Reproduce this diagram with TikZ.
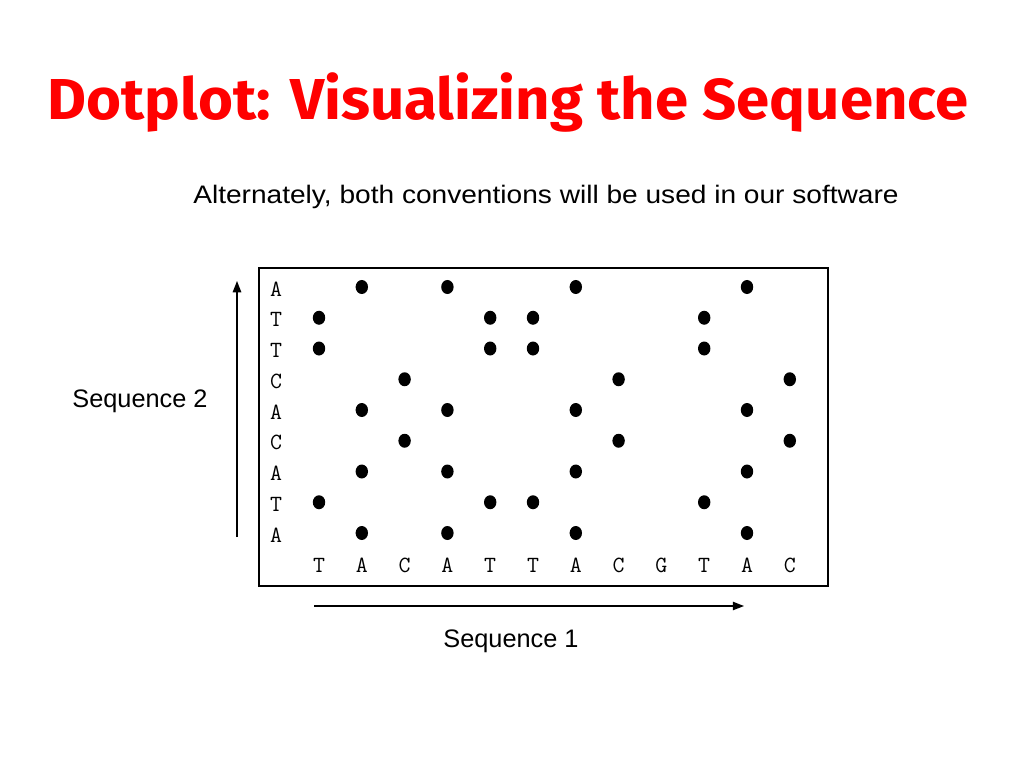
\documentclass[tikz,border=0pt]{standalone}
\usepackage{fontspec}
\setmainfont{Liberation Sans}
\newfontfamily\titlefont{Fira Sans}
\usetikzlibrary{arrows.meta,shapes.geometric}

\begin{document}
\begin{tikzpicture}[x=0.025cm, y=-0.025cm,
    label text/.style={font=\fontsize{18}{21}\selectfont},
    base/.style={font=\ttfamily\fontsize{16.5}{18}\selectfont, inner sep=0pt},
    hit/.style={ellipse, fill=black, inner sep=0pt, minimum width=0.31cm, minimum height=0.35cm},
    axis arrow/.style={line width=1pt, -{Triangle[length=8pt, width=6pt]}}]
  \useasboundingbox (0,0) rectangle (1024,768);
  \node[text=red, anchor=base, inner sep=0pt] (title) at (508,120)
    {\resizebox{23cm}{1.17cm}{\titlefont\bfseries Dotplot: Visualizing the Sequence}};
  \node[label text, anchor=base, inner sep=0pt] (subtitle) at (546,203)
    {\scalebox{1.11}[1]{Alternately, both conventions will be used in our software}};
  % dotplot frame
  \draw[line width=0.8pt] (259,268) rectangle (828,586);
  \foreach \b [count=\i] in {T,A,C,A,T,T,A,C,G,T,A,C}
    \node[base] (c\i) at ({319+42.8*(\i-1)},565) {\b};
  \foreach \a [count=\j] in {A,T,T,C,A,C,A,T,A}
    \node[base] (r\j) at (276,{289+30.75*(\j-1)}) {\a};
  % a dot wherever the two bases match
  \foreach \a [count=\j] in {A,T,T,C,A,C,A,T,A}
    \foreach \b [count=\i] in {T,A,C,A,T,T,A,C,G,T,A,C}
      {\ifx\a\b \node[hit] (d\j-\i) at ([yshift=0.05cm]c\i |- r\j) {}; \fi}
  \coordinate (s2from) at (237,537);
  \coordinate (s2to) at (237,281);
  \coordinate (s1from) at (314,606);
  \coordinate (s1to) at (744,606);
  \draw[axis arrow] (s2from) -- (s2to);
  \draw[axis arrow] (s1from) -- (s1to);
  \node[label text] (seq2) at (140,401) {Sequence 2};
  \node[label text] (seq1) at (511,641) {Sequence 1};
\end{tikzpicture}
\end{document}
